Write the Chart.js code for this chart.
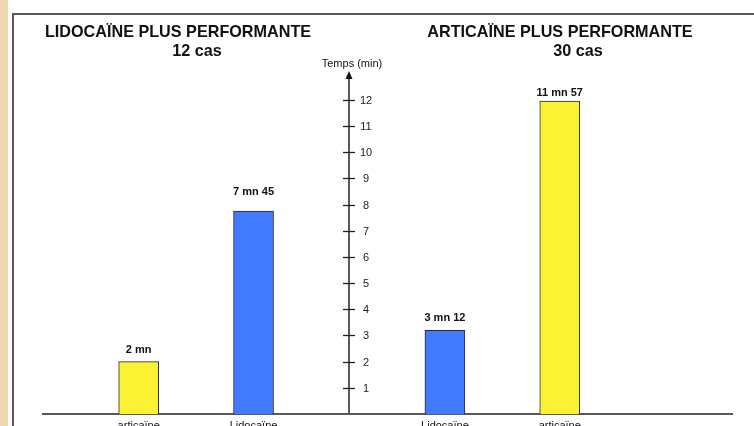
<!DOCTYPE html>
<html lang="fr">
<head>
<meta charset="utf-8">
<title>Temps d'anesthésie</title>
<script src="https://cdn.jsdelivr.net/npm/chart.js@4.4.1/dist/chart.umd.min.js"></script>
<style>
  html, body { margin: 0; padding: 0; background: #fff; overflow: hidden; }
  #wrap { position: relative; width: 754px; height: 426px; }
  #strip { position: absolute; left: 0; top: 0; width: 8px; height: 426px; background: #EFD8AE; }
  #frame { position: absolute; left: 12px; top: 13px; width: 742px; height: 413px;
           border-left: 2px solid #595959; border-top: 2px solid #595959; box-sizing: border-box; }
  canvas { position: absolute; left: 0; top: 0; }
</style>
</head>
<body>
<div id="wrap">
  <div id="strip"></div>
  <div id="frame"></div>
  <canvas id="chart" width="754" height="426"></canvas>
</div>
<script>
// Produits comparés, dans l'ordre de gauche à droite
const categories = ['articaïne', 'Lidocaïne', 'Lidocaïne', 'articaïne'];
// Temps mesurés : minutes et secondes
const minutes = [2, 7, 3, 11];
const seconds = [0, 45, 12, 57];
// Graduations de l'axe du temps
const yTicks = [1, 2, 3, 4, 5, 6, 7, 8, 9, 10, 11, 12];
// Titres des deux groupes et nombre de cas
const groupTitles = ['LIDOCAÏNE PLUS PERFORMANTE', 'ARTICAÏNE PLUS PERFORMANTE'];
const groupCases = [12, 30];
const axisTitle = 'Temps (min)';

// Mise en page : emplacements des barres sur un axe à 18 cases, axe vertical entre deux cases
const slotCount = 18;
const barSlots = [2, 5, 10, 13];
const axisSlot = 7.5;
const labelLift = [12, 19, 12, 8];
const YELLOW = '#FAF232';
const BLUE = '#4179FF';
const barColors = [YELLOW, BLUE, BLUE, YELLOW];
const FONT = '"Liberation Sans", Arial, Helvetica, sans-serif';

const values = minutes.map((m, i) => m + seconds[i] / 60);
const valueText = minutes.map((m, i) => seconds[i] ? `${m} mn ${seconds[i]}` : `${m} mn`);

const slotLabels = new Array(slotCount).fill('');
const slotValues = new Array(slotCount).fill(null);
const slotColors = new Array(slotCount).fill('transparent');
const slotText = new Array(slotCount).fill('');
barSlots.forEach((s, i) => {
  slotLabels[s] = categories[i];
  slotValues[s] = values[i];
  slotColors[s] = barColors[i];
  slotText[s] = valueText[i];
});

const decorations = {
  id: 'decorations',
  afterDatasetsDraw(chart) {
    const ctx = chart.ctx;
    const area = chart.chartArea;
    const xs = chart.scales.x;
    const ys = chart.scales.y;
    const ax = Math.round(xs.getPixelForValue(axisSlot));

    ctx.save();
    // Axe vertical du temps avec flèche
    ctx.strokeStyle = '#595959';
    ctx.lineWidth = 2;
    ctx.beginPath();
    ctx.moveTo(ax, area.bottom);
    ctx.lineTo(ax, area.top + 6);
    ctx.stroke();
    ctx.fillStyle = '#111';
    ctx.beginPath();
    ctx.moveTo(ax, area.top);
    ctx.lineTo(ax - 3.5, area.top + 8);
    ctx.lineTo(ax + 3.5, area.top + 8);
    ctx.closePath();
    ctx.fill();

    // Graduations
    ctx.strokeStyle = '#222';
    ctx.lineWidth = 1.3;
    ctx.fillStyle = '#222';
    ctx.font = `11px ${FONT}`;
    ctx.textAlign = 'center';
    ctx.textBaseline = 'middle';
    yTicks.forEach(v => {
      const y = Math.round(ys.getPixelForValue(v)) + 0.5;
      ctx.beginPath();
      ctx.moveTo(ax - 6, y);
      ctx.lineTo(ax + 6, y);
      ctx.stroke();
      ctx.fillText(String(v), ax + 17, y + 0.5);
    });
    ctx.fillStyle = '#111';
    ctx.fillText(axisTitle, ax + 3, area.top - 7);

    // Valeurs au-dessus des barres
    const meta = chart.getDatasetMeta(0);
    ctx.font = `bold 11px ${FONT}`;
    ctx.fillStyle = '#111';
    barSlots.forEach((s, i) => {
      const bar = meta.data[s];
      ctx.fillText(slotText[s], bar.x, bar.y - labelLift[i]);
    });

    // Titres des groupes
    ctx.font = `bold 16.2px ${FONT}`;
    ctx.textBaseline = 'alphabetic';
    ctx.fillText(groupTitles[0], 178, 37);
    ctx.fillText(`${groupCases[0]} cas`, 197, 56);
    ctx.fillText(groupTitles[1], 560, 37);
    ctx.fillText(`${groupCases[1]} cas`, 578, 56);
    ctx.restore();
  }
};

new Chart(document.getElementById('chart'), {
  type: 'bar',
  data: {
    labels: slotLabels,
    datasets: [{
      data: slotValues,
      backgroundColor: slotColors,
      borderColor: '#2a2a2a',
      borderWidth: 1,
      barThickness: 40
    }]
  },
  options: {
    responsive: false,
    animation: false,
    events: [],
    layout: { padding: { left: 43, right: 22, top: 71, bottom: 0 } },
    plugins: { legend: { display: false }, tooltip: { enabled: false } },
    scales: {
      x: {
        grid: { display: false, drawTicks: false },
        border: { display: true, color: '#595959', width: 2 },
        ticks: {
          autoSkip: false, maxRotation: 0, minRotation: 0, padding: 5,
          color: '#111', font: { family: FONT, size: 11 }
        },
        afterFit(scale) { scale.height = 12; }
      },
      y: {
        display: false,
        min: 0,
        max: 13.1
      }
    }
  },
  plugins: [decorations]
});
</script>
</body>
</html>
